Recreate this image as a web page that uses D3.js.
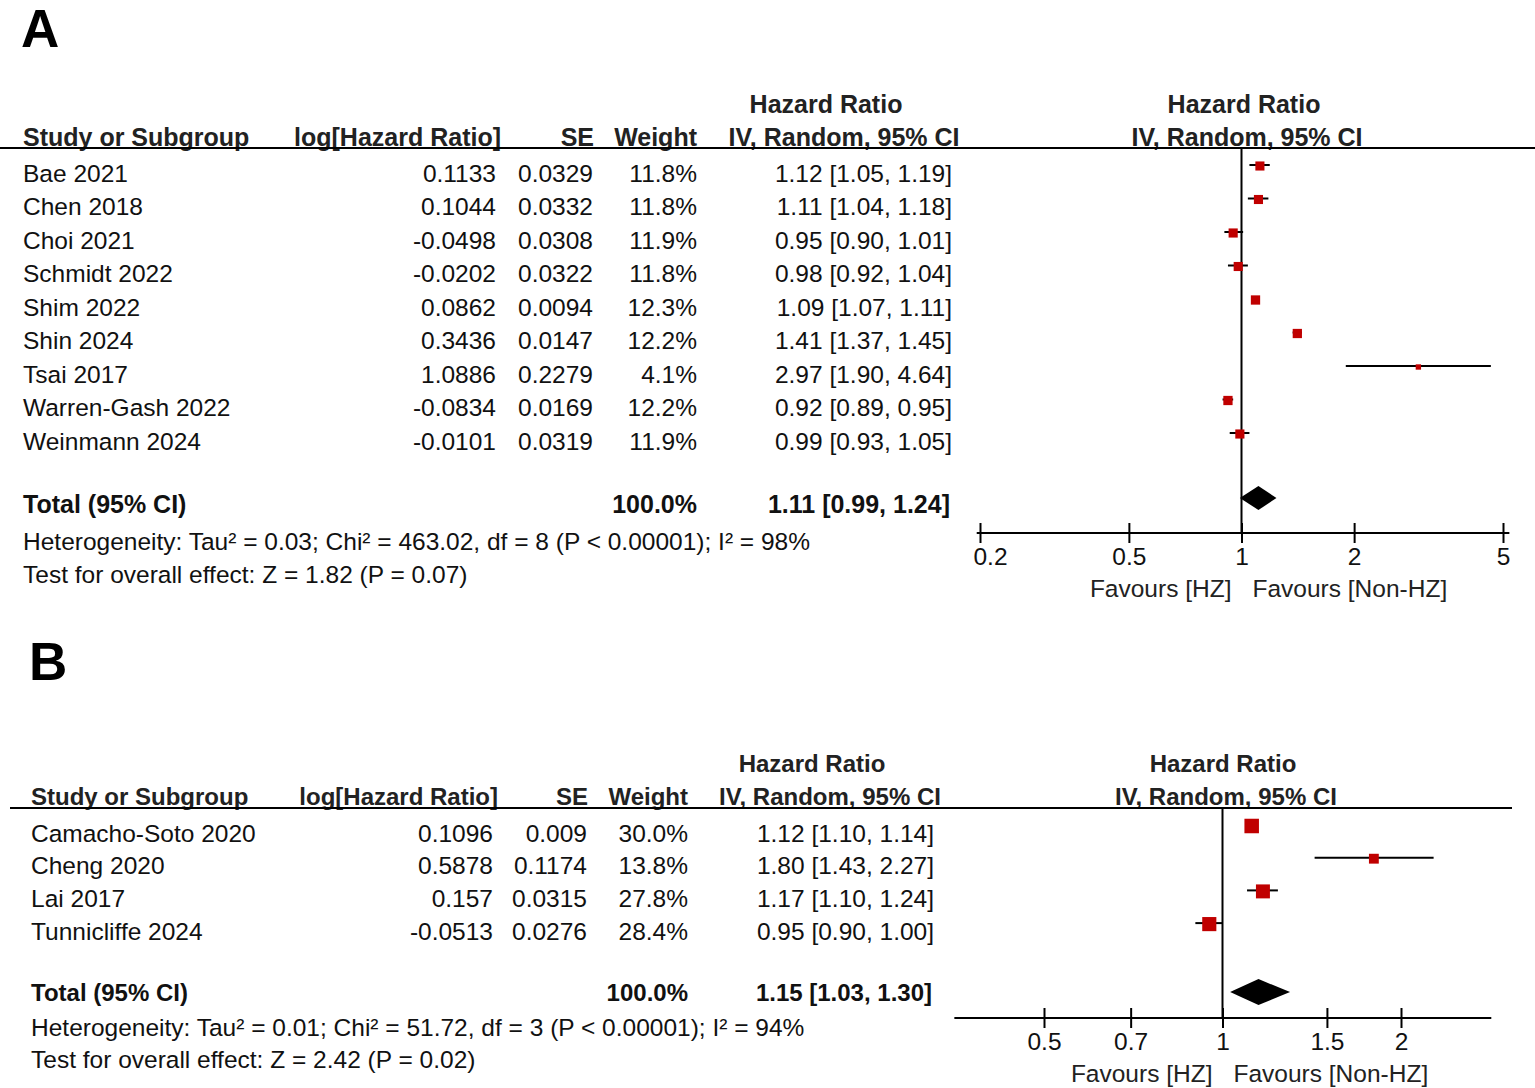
<!DOCTYPE html>
<html>
<head>
<meta charset="utf-8">
<script src="https://cdn.jsdelivr.net/npm/d3@7"></script>
<style>
  body { margin: 0; background: #fff; }
  svg { display: block; font-family: "Liberation Sans", Arial, sans-serif; }
</style>
</head>
<body>
<div id="chart" style="width:1535px;height:1088px"></div>
<script>
// ---- panel A data ----
var studiesA = ["Bae 2021", "Chen 2018", "Choi 2021", "Schmidt 2022", "Shim 2022", "Shin 2024", "Tsai 2017", "Warren-Gash 2022", "Weinmann 2024"];
var logHrA = ["0.1133", "0.1044", "-0.0498", "-0.0202", "0.0862", "0.3436", "1.0886", "-0.0834", "-0.0101"];
var seA = ["0.0329", "0.0332", "0.0308", "0.0322", "0.0094", "0.0147", "0.2279", "0.0169", "0.0319"];
var weightA = [11.8, 11.8, 11.9, 11.8, 12.3, 12.2, 4.1, 12.2, 11.9];
var hrA = [1.12, 1.11, 0.95, 0.98, 1.09, 1.41, 2.97, 0.92, 0.99];
var lowA = [1.05, 1.04, 0.90, 0.92, 1.07, 1.37, 1.90, 0.89, 0.93];
var highA = [1.19, 1.18, 1.01, 1.04, 1.11, 1.45, 4.64, 0.95, 1.05];
var totalA = { hr: 1.11, low: 0.99, high: 1.24 };
var ticksA = [0.2, 0.5, 1, 2, 5];
var hetA = "Heterogeneity: Tau² = 0.03; Chi² = 463.02, df = 8 (P < 0.00001); I² = 98%";
var testA = "Test for overall effect: Z = 1.82 (P = 0.07)";

// ---- panel B data ----
var studiesB = ["Camacho-Soto 2020", "Cheng 2020", "Lai 2017", "Tunnicliffe 2024"];
var logHrB = ["0.1096", "0.5878", "0.157", "-0.0513"];
var seB = ["0.009", "0.1174", "0.0315", "0.0276"];
var weightB = [30.0, 13.8, 27.8, 28.4];
var hrB = [1.12, 1.80, 1.17, 0.95];
var lowB = [1.10, 1.43, 1.10, 0.90];
var highB = [1.14, 2.27, 1.24, 1.00];
var totalB = { hr: 1.15, low: 1.03, high: 1.30 };
var ticksB = [0.5, 0.7, 1, 1.5, 2];
var hetB = "Heterogeneity: Tau² = 0.01; Chi² = 51.72, df = 3 (P < 0.00001); I² = 94%";
var testB = "Test for overall effect: Z = 2.42 (P = 0.02)";

var fs = 24.5;
var svg = d3.select("#chart").append("svg")
    .attr("width", 1535)
    .attr("height", 1088);

function fmtCI(h, l, u) {
    return h.toFixed(2) + " [" + l.toFixed(2) + ", " + u.toFixed(2) + "]";
}

function forestPanel({ label, labelX, labelY, top, studies, logHr, se, weight, hr, low, high, total, ticks,
                      het, test, col, plot, rowStep, lineX0, lineX1, boldFs, noteGap } = {}) {
    var g = svg.append("g");

    g.append("text")
        .attr("x", labelX).attr("y", labelY)
        .attr("font-size", 53).attr("font-weight", "bold")
        .text(label);

    // headers
    var hy1 = top - 33, hy2 = top;   // text centre lines
    var heads = [
        { t: "Study or Subgroup", x: col.name, a: "start", y: hy2 },
        { t: "log[Hazard Ratio]", x: col.logHr + 5, a: "end", y: hy2 },
        { t: "SE", x: col.se + 1, a: "end", y: hy2 },
        { t: "Weight", x: col.weight, a: "end", y: hy2 },
        { t: "Hazard Ratio", x: col.ciHead, a: "middle", y: hy1 },
        { t: "IV, Random, 95% CI", x: col.ciHead + 18, a: "middle", y: hy2 },
        { t: "Hazard Ratio", x: col.plotHead, a: "middle", y: hy1 },
        { t: "IV, Random, 95% CI", x: col.plotHead + 3, a: "middle", y: hy2 }
    ];
    g.selectAll("text.head")
        .data(heads)
        .enter()
        .append("text")
        .attr("class", "head")
        .attr("x", d => d.x)
        .attr("y", d => d.y)
        .attr("dy", "0.35em")
        .attr("text-anchor", d => d.a)
        .attr("font-size", boldFs)
        .attr("font-weight", "bold")
        .attr("fill", "#222")
        .text(d => d.t);

    var lineY = plot.lineY;
    g.append("line")
        .attr("x1", lineX0).attr("x2", lineX1)
        .attr("y1", lineY).attr("y2", lineY)
        .attr("stroke", "#000").attr("stroke-width", 2);

    var n = studies.length;
    var y = d3.scaleLinear()
        .domain([0, n - 1])
        .range([top + 36, top + 36 + (n - 1) * rowStep]);
    var totalY = y(n - 1) + plot.totalGap;

    var x = d3.scaleLog()
        .domain(plot.domain)
        .range(plot.range);

    var size = d3.scaleSqrt()
        .domain([0, 100])
        .range([0, 26.5]);

    var rows = d3.range(n);
    var cols = [
        { key: "name", x: col.name, a: "start", f: i => studies[i] },
        { key: "logHr", x: col.logHr, a: "end", f: i => logHr[i] },
        { key: "se", x: col.se, a: "end", f: i => se[i] },
        { key: "weight", x: col.weight, a: "end", f: i => weight[i].toFixed(1) + "%" },
        { key: "ci", x: col.ci, a: "end", f: i => fmtCI(hr[i], low[i], high[i]) }
    ];
    cols.forEach(function (c) {
        g.selectAll("text.c-" + c.key)
            .data(rows)
            .enter()
            .append("text")
            .attr("class", "c-" + c.key)
            .attr("x", c.x)
            .attr("y", d => y(d))
            .attr("dy", "0.35em")
            .attr("text-anchor", c.a)
            .attr("font-size", fs)
            .attr("fill", "#111")
            .text(c.f);
    });

    // total row
    var totals = [
        { t: "Total (95% CI)", x: col.name, a: "start" },
        { t: "100.0%", x: col.weight, a: "end" },
        { t: fmtCI(total.hr, total.low, total.high), x: col.ci - 2, a: "end" }
    ];
    g.selectAll("text.tot")
        .data(totals)
        .enter()
        .append("text")
        .attr("class", "tot")
        .attr("x", d => d.x)
        .attr("y", totalY)
        .attr("dy", "0.35em")
        .attr("text-anchor", d => d.a)
        .attr("font-size", boldFs)
        .attr("font-weight", "bold")
        .attr("fill", "#111")
        .text(d => d.t);

    g.append("text")
        .attr("x", col.name).attr("y", totalY + noteGap[0])
        .attr("dy", "0.35em").attr("font-size", fs).attr("fill", "#111")
        .text(het);
    g.append("text")
        .attr("x", col.name).attr("y", totalY + noteGap[1])
        .attr("dy", "0.35em").attr("font-size", fs).attr("fill", "#111")
        .text(test);

    // plot
    var axisY = plot.axisY;
    g.append("line")
        .attr("x1", x(1)).attr("x2", x(1))
        .attr("y1", lineY).attr("y2", axisY)
        .attr("stroke", "#000").attr("stroke-width", 2);

    g.selectAll("line.ci")
        .data(rows)
        .enter()
        .append("line")
        .attr("class", "ci")
        .attr("x1", d => x(low[d]))
        .attr("x2", d => x(high[d]))
        .attr("y1", d => y(d) - 8)
        .attr("y2", d => y(d) - 8)
        .attr("stroke", "#000")
        .attr("stroke-width", 2);

    g.selectAll("rect.box")
        .data(rows)
        .enter()
        .append("rect")
        .attr("class", "box")
        .attr("x", d => x(hr[d]) - size(weight[d]) / 2)
        .attr("y", d => y(d) - 8 - size(weight[d]) / 2 + 1)
        .attr("width", d => size(weight[d]))
        .attr("height", d => size(weight[d]))
        .attr("fill", "#c00000");

    var dy = totalY + plot.diamondOff, dh = plot.diamondH;
    g.append("path")
        .attr("d", "M" + x(total.low) + "," + dy +
            "L" + x(total.hr) + "," + (dy - dh) +
            "L" + x(total.high) + "," + dy +
            "L" + x(total.hr) + "," + (dy + dh) + "Z")
        .attr("fill", "#000");

    var axis = d3.axisBottom(x)
        .tickValues(ticks)
        .tickFormat(d3.format("~g"))
        .tickSizeOuter(0)
        .tickSize(10)
        .tickPadding(4);
    var ax = g.append("g")
        .attr("transform", "translate(0," + axisY + ")")
        .call(axis);
    ax.select(".domain").remove();
    ax.selectAll(".tick line")
        .attr("y1", -10).attr("y2", 10)
        .attr("stroke-width", 2);
    ax.selectAll(".tick text")
        .attr("font-size", fs)
        .attr("font-family", "Liberation Sans, Arial, sans-serif")
        .attr("fill", "#111")
        .attr("y", plot.tickY)
        .attr("x", (d, i) => i === 0 ? plot.firstTickShift : 0);
    ax.append("line")
        .attr("x1", x(plot.line[0])).attr("x2", x(plot.line[1]))
        .attr("y1", 0).attr("y2", 0)
        .attr("stroke", "#000").attr("stroke-width", 2);

    g.append("text")
        .attr("x", x(1) - 10).attr("y", axisY + 55)
        .attr("dy", "0.35em").attr("text-anchor", "end")
        .attr("font-size", fs).attr("fill", "#222")
        .text("Favours [HZ]");
    g.append("text")
        .attr("x", x(1) + 11).attr("y", axisY + 55)
        .attr("dy", "0.35em").attr("text-anchor", "start")
        .attr("font-size", fs).attr("fill", "#222")
        .text("Favours [Non-HZ]");
}

forestPanel({
    label: "A", labelX: 21, labelY: 47, top: 137,
    studies: studiesA, logHr: logHrA, se: seA, weight: weightA,
    hr: hrA, low: lowA, high: highA, total: totalA, ticks: ticksA,
    het: hetA, test: testA, rowStep: 33.5, lineX0: 0, lineX1: 1535,
    boldFs: 25, noteGap: [37, 70],
    col: { name: 23, logHr: 496, se: 593, weight: 697, ci: 952, ciHead: 826, plotHead: 1244 },
    plot: { domain: [0.2, 5], range: [980, 1503], line: [0.196, 5.2], axisY: 533, lineY: 148,
            diamondH: 12, diamondOff: -6, totalGap: 63, tickY: 15, firstTickShift: 10 }
});

forestPanel({
    label: "B", labelX: 29, labelY: 680, top: 797,
    studies: studiesB, logHr: logHrB, se: seB, weight: weightB,
    hr: hrB, low: lowB, high: highB, total: totalB, ticks: ticksB,
    het: hetB, test: testB, rowStep: 32.7, lineX0: 10, lineX1: 1512,
    boldFs: 24, noteGap: [35, 67],
    col: { name: 31, logHr: 493, se: 587, weight: 688, ci: 934, ciHead: 812, plotHead: 1223 },
    plot: { domain: [0.5, 2], range: [1044, 1401], line: [0.353, 2.84], axisY: 1018, lineY: 808,
            diamondH: 13, diamondOff: 0, totalGap: 61, tickY: 15, firstTickShift: 0 }
});
</script>
</body>
</html>
